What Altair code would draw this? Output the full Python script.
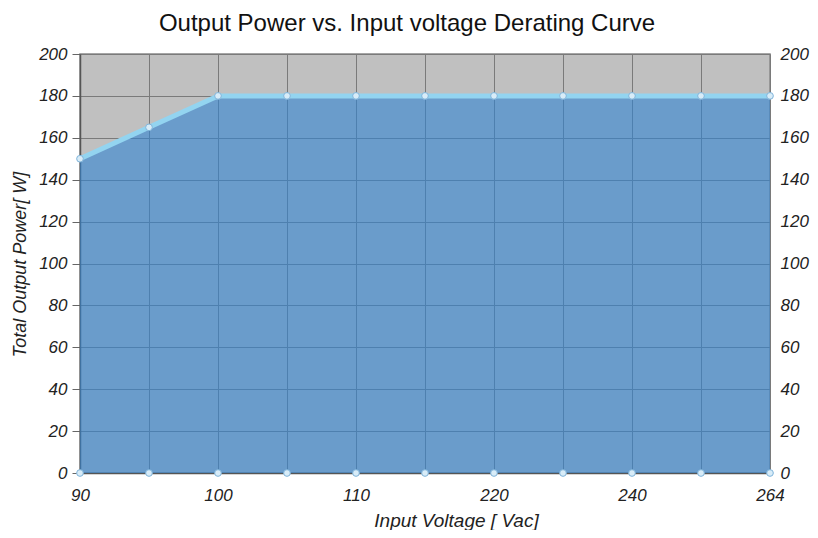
import json
import altair as alt
import pandas as pd

x_labels = ["90", "", "100", "", "110", "", "220", "", "240", "", "264"]
power = [150, 165, 180, 180, 180, 180, 180, 180, 180, 180, 180]
baseline = [0, 0, 0, 0, 0, 0, 0, 0, 0, 0, 0]
y_ticks = [0, 20, 40, 60, 80, 100, 120, 140, 160, 180, 200]

idx = list(range(len(power)))
df = pd.DataFrame({"i": idx, "p": power, "z": baseline})

FONT = "Liberation Sans"
label_expr = json.dumps(x_labels) + "[datum.value]"

x_enc = alt.X(
    "i:Q",
    scale=alt.Scale(domain=[0, len(idx) - 1], nice=False, zero=False),
    axis=alt.Axis(
        values=idx, labelExpr=label_expr, grid=True, gridColor="#7a7a7a",
        gridOpacity=1, ticks=False, title="Input  Voltage [ Vac]",
        labelFont=FONT, labelFontSize=17, labelFontStyle="italic", labelColor="#222",
        labelPadding=14, labelOverlap=False, labelFlush=False,
        titleFont=FONT, titleFontSize=19, titleFontStyle="italic", titleFontWeight="normal",
        titleColor="#222", titleX=376, titleY=47, titleBaseline="middle",
        domainColor="#555", domainWidth=1.5,
    ),
)

y_axis = alt.Axis(
    values=y_ticks, grid=True, gridColor="#7a7a7a", gridOpacity=1,
    tickSize=8, tickColor="#666", labelPadding=5,
    labelFont=FONT, labelFontSize=17, labelFontStyle="italic", labelColor="#222",
    title="Total Output Power[ W]", titleFont=FONT, titleFontSize=18,
    titleFontStyle="italic", titleFontWeight="normal", titleColor="#222",
    titleX=-60, titleY=210, titleAngle=-90, titleBaseline="middle",
    domainColor="#555", domainWidth=1.5,
)
y_scale = alt.Scale(domain=[0, 200], nice=False)

base = alt.Chart(df)

area = base.mark_area(color="#3184d2", opacity=0.6).encode(
    x=x_enc, y=alt.Y("p:Q", scale=y_scale, axis=y_axis)
)
line = base.mark_line(color="#93d4f0", strokeWidth=5).encode(
    x=x_enc, y=alt.Y("p:Q", scale=y_scale, axis=y_axis)
)
pts = base.mark_point(shape="circle", filled=True, size=45, fill="#d8ecf8",
                      stroke="#80b4da", strokeWidth=1, opacity=1).encode(
    x=x_enc, y=alt.Y("p:Q", scale=y_scale, axis=y_axis)
)
pts0 = base.mark_point(shape="circle", filled=True, size=45, fill="#d8ecf8",
                       stroke="#80b4da", strokeWidth=1, opacity=1).encode(
    x=x_enc, y=alt.Y("z:Q", scale=y_scale, axis=y_axis)
)

inner = alt.layer(area, line, pts, pts0)

right = base.mark_line(opacity=0).encode(
    x=x_enc,
    y=alt.Y("p:Q", scale=alt.Scale(domain=[0, 200], nice=False),
            axis=alt.Axis(orient="right", values=y_ticks, grid=False, ticks=False,
                          domain=False, labelPadding=10, title=None,
                          labelFont=FONT, labelFontSize=17, labelFontStyle="italic",
                          labelColor="#222")),
)

chart = alt.layer(inner, right).resolve_scale(y="independent").properties(
    width=690, height=419,
    autosize=alt.AutoSizeParams(type="none"),
    padding={"left": 72, "top": 46, "right": 40, "bottom": 57},
    title=alt.TitleParams(
        "Output Power vs. Input voltage Derating Curve",
        font=FONT, fontSize=24, fontWeight="normal", color="#111",
        anchor="middle", dx=-18, offset=-3, baseline="middle",
    ),
).configure_view(fill="#c0c0c0", stroke="#888", strokeWidth=1.5)

chart.save("out.html", embed_options={"renderer": "svg", "actions": False})
